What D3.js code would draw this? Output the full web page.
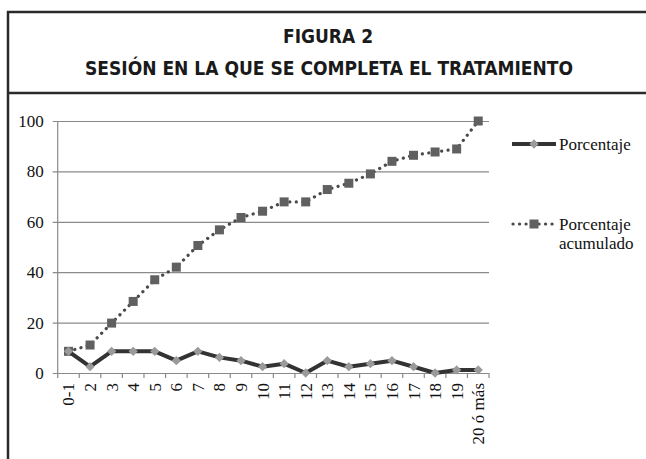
<!DOCTYPE html>
<html>
<head>
<meta charset="utf-8">
<script src="https://cdn.jsdelivr.net/npm/d3@7"></script>
<style>
  html, body { margin: 0; padding: 0; background: #fff; }
  svg { display: block; }
</style>
</head>
<body>
<svg id="chart" width="646" height="459"></svg>
<script>
// Session in which treatment is completed
const categories = ["0-1","2","3","4","5","6","7","8","9","10","11","12","13","14","15","16","17","18","19","20 ó más"];
const porcentaje = [8.6, 2.5, 8.6, 8.6, 8.6, 4.9, 8.6, 6.2, 4.9, 2.5, 3.7, 0, 4.9, 2.5, 3.7, 4.9, 2.5, 0, 1.2, 1.2];
const acumulado  = [8.6, 11.1, 19.8, 28.4, 37.0, 42.0, 50.6, 56.8, 61.7, 64.2, 67.9, 67.9, 72.8, 75.3, 79.0, 84.0, 86.4, 87.7, 88.9, 100];
const yTicks = [0, 20, 40, 60, 80, 100];
const seriesNames = ["Porcentaje", ["Porcentaje", "acumulado"]];
const titleLines = ["FIGURA 2", "SESIÓN EN LA QUE SE COMPLETA EL TRATAMIENTO"];

const svg = d3.select("#chart");
const serif = "'Liberation Serif', 'Times New Roman', serif";
const headFont = "'DejaVu Sans Condensed', 'DejaVu Sans', sans-serif";
const labelSize = 17;

// Frame and header box
svg.append("line").attr("x1", 8).attr("x2", 8).attr("y1", 11).attr("y2", 459)
  .attr("stroke", "#2a2a2a").attr("stroke-width", 2.5);
svg.append("line").attr("x1", 7).attr("x2", 646).attr("y1", 12).attr("y2", 12)
  .attr("stroke", "#2a2a2a").attr("stroke-width", 2.5);
svg.append("line").attr("x1", 7).attr("x2", 646).attr("y1", 93).attr("y2", 93)
  .attr("stroke", "#2a2a2a").attr("stroke-width", 2.5);

svg.append("text").attr("x", 328).attr("y", 43).attr("text-anchor", "middle")
  .attr("font-family", headFont).attr("font-weight", "bold").attr("font-size", 20)
  .attr("fill", "#1a1a1a").attr("textLength", 90).attr("lengthAdjust", "spacingAndGlyphs")
  .text(titleLines[0]);
svg.append("text").attr("x", 329).attr("y", 75).attr("text-anchor", "middle")
  .attr("font-family", headFont).attr("font-weight", "bold").attr("font-size", 20)
  .attr("fill", "#1a1a1a").attr("textLength", 488).attr("lengthAdjust", "spacingAndGlyphs")
  .text(titleLines[1]);

// Plot area
const plotLeft = 57.7, plotRight = 489, plotTop = 121, plotBottom = 373;

const x = d3.scaleBand().domain(categories).range([plotLeft, plotRight]).padding(0);
const y = d3.scaleLinear().domain([0, 100]).range([plotBottom, plotTop]);
const cx = d => x(d) + x.bandwidth() / 2;

// Horizontal gridlines with small ticks to the left of the axis
const yAxis = d3.axisLeft(y).tickValues(yTicks).tickSize(-(plotRight - plotLeft)).tickPadding(14).tickFormat(d3.format("d"));
const gy = svg.append("g").attr("transform", `translate(${plotLeft},0)`).call(yAxis);
gy.select(".domain").remove();
gy.selectAll(".tick line").attr("stroke", "#8a8a8a").attr("stroke-width", 1.2).attr("x1", -5);
gy.selectAll(".tick text").attr("font-family", serif).attr("font-size", labelSize).attr("fill", "#111");

// Vertical axis line
svg.append("line").attr("x1", plotLeft).attr("x2", plotLeft).attr("y1", plotTop).attr("y2", plotBottom)
  .attr("stroke", "#8a8a8a").attr("stroke-width", 1.2);

// Category ticks at band boundaries
const boundaries = categories.map(c => x(c)).concat([plotRight]);
svg.append("g").selectAll("line").data(boundaries).join("line")
  .attr("x1", d => d).attr("x2", d => d).attr("y1", plotBottom).attr("y2", plotBottom + 5)
  .attr("stroke", "#8a8a8a").attr("stroke-width", 1.2);

// Rotated category labels
svg.append("g").selectAll("text").data(categories).join("text")
  .attr("transform", d => `translate(${cx(d) + 6},${plotBottom + 10}) rotate(-90)`)
  .attr("text-anchor", "end")
  .attr("font-family", serif).attr("font-size", labelSize).attr("fill", "#111")
  .text(d => d);

// Cumulative percentage: dotted line with square markers
const lineAcc = d3.line().x((d, i) => cx(categories[i])).y(d => y(d));
svg.append("path").datum(acumulado).attr("d", lineAcc)
  .attr("fill", "none").attr("stroke", "#4a4a4a").attr("stroke-width", 3.2)
  .attr("stroke-linecap", "round").attr("stroke-dasharray", "0.1 6.4");
svg.append("g").selectAll("rect").data(acumulado).join("rect")
  .attr("x", (d, i) => cx(categories[i]) - 4.5).attr("y", d => y(d) - 4.5)
  .attr("width", 9).attr("height", 9).attr("fill", "#606060");

// Percentage: solid thick line with diamond markers
const linePct = d3.line().x((d, i) => cx(categories[i])).y(d => y(d));
svg.append("path").datum(porcentaje).attr("d", linePct)
  .attr("fill", "none").attr("stroke", "#333").attr("stroke-width", 4)
  .attr("stroke-linejoin", "round");
const diamond = d3.symbol().type(d3.symbolDiamond2).size(55);
svg.append("g").selectAll("path").data(porcentaje).join("path")
  .attr("transform", (d, i) => `translate(${cx(categories[i])},${y(d)})`)
  .attr("d", diamond).attr("fill", "#9a9a9a");

// Legend
const lg = svg.append("g");
lg.append("line").attr("x1", 512).attr("x2", 556).attr("y1", 144).attr("y2", 144)
  .attr("stroke", "#333").attr("stroke-width", 4);
lg.append("path").attr("transform", "translate(534,144)").attr("d", diamond).attr("fill", "#9a9a9a");
lg.append("text").attr("x", 559).attr("y", 150).attr("font-family", serif).attr("font-size", labelSize)
  .attr("fill", "#111").text(seriesNames[0]);

lg.append("line").attr("x1", 513).attr("x2", 556).attr("y1", 224).attr("y2", 224)
  .attr("stroke", "#4a4a4a").attr("stroke-width", 3.2).attr("stroke-linecap", "round")
  .attr("stroke-dasharray", "0.1 6.4");
lg.append("rect").attr("x", 529.5).attr("y", 219.5).attr("width", 9).attr("height", 9).attr("fill", "#606060");
const t2 = lg.append("text").attr("font-family", serif).attr("font-size", labelSize).attr("fill", "#111");
t2.append("tspan").attr("x", 559).attr("y", 230).text(seriesNames[1][0]);
t2.append("tspan").attr("x", 559).attr("y", 249).text(seriesNames[1][1]);
</script>
</body>
</html>
